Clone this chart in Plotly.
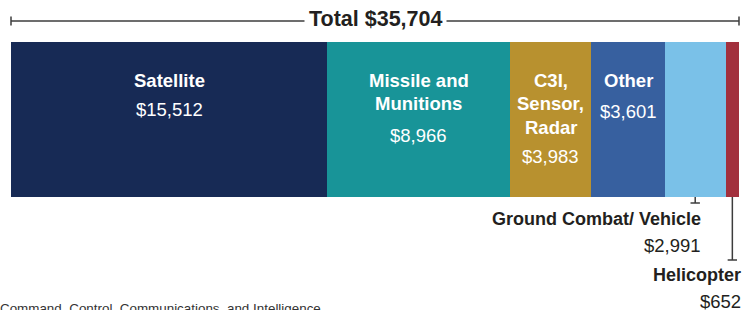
import plotly.graph_objects as go

categories = ["Satellite", "Missile and Munitions", "C3I, Sensor, Radar", "Other",
              "Ground Combat/ Vehicle", "Helicopter"]
values = [15512, 8966, 3983, 3601, 2991, 652]
value_labels = ["$15,512", "$8,966", "$3,983", "$3,601", "$2,991", "$652"]
inner_lines = [["Satellite"], ["Missile and", "Munitions"], ["C3I,", "Sensor,", "Radar"], ["Other"]]
colors = ["#172A55", "#189498", "#B8912F", "#37609F", "#7AC1E8", "#A2303D"]
total_label = "Total $35,704"
footnote = "Command, Control, Communications, and Intelligence"

T = sum(values)
W, H = 756, 310
bar_left, bar_px = 11, 728
x0 = -bar_left * T / bar_px
x1 = x0 + W * T / bar_px

BAR_Y, BAR_H = 119.5, 155
bar_top, bar_bot = BAR_Y - BAR_H / 2, BAR_Y + BAR_H / 2

FONT = "Liberation Sans, Arial, sans-serif"
DARK = "#231F20"

fig = go.Figure()
for c, v, col in zip(categories, values, colors):
    fig.add_trace(go.Bar(y=[BAR_Y], x=[v], orientation="h", width=BAR_H, name=c,
                         marker=dict(color=col, line=dict(width=0)), hoverinfo="name+x"))

mids = []
cum = 0
for v in values:
    mids.append(cum + v / 2)
    cum += v

ann = []
LINE = 23.5
FIRST = 80
VGAP = [29, 32, 29, 31]
for i, lines in enumerate(inner_lines):
    y = FIRST
    for j, ln in enumerate(lines):
        ann.append(dict(x=mids[i], y=y, text="<b>%s</b>" % ln, showarrow=False,
                        font=dict(family=FONT, size=18.5, color="white"),
                        xanchor="center", yanchor="middle"))
        if j < len(lines) - 1:
            y += LINE
    ann.append(dict(x=mids[i], y=y + VGAP[i], text=value_labels[i], showarrow=False,
                    font=dict(family=FONT, size=18.5, color="white"),
                    xanchor="center", yanchor="middle"))

# total
ann.append(dict(x=T / 2, y=19, text="<b>%s</b>" % total_label, showarrow=False,
                font=dict(family=FONT, size=21.5, color=DARK), bgcolor="white",
                borderpad=4, xanchor="center", yanchor="middle"))

# outside labels
ann.append(dict(x=mids[4], y=218.5, text="<b>%s</b>" % categories[4], showarrow=False,
                font=dict(family=FONT, size=18, color=DARK), xanchor="right",
                yanchor="middle", xshift=8))
ann.append(dict(x=mids[4], y=245, text=value_labels[4], showarrow=False,
                font=dict(family=FONT, size=18.5, color=DARK), xanchor="right",
                yanchor="middle", xshift=8))
ann.append(dict(x=mids[5], y=275, text="<b>%s</b>" % categories[5], showarrow=False,
                font=dict(family=FONT, size=18, color=DARK), xanchor="right",
                yanchor="middle", xshift=11))
ann.append(dict(x=mids[5], y=301, text=value_labels[5], showarrow=False,
                font=dict(family=FONT, size=18.5, color=DARK), xanchor="right",
                yanchor="middle", xshift=11))

ann.append(dict(xref="paper", yref="y", x=0, y=308, text=footnote, showarrow=False,
                font=dict(family=FONT, size=13.4, color="#333333"), xanchor="left",
                yanchor="middle", xshift=-2))

lc = "#3C3C3C"
shapes = [
    dict(type="line", x0=0, x1=T, y0=21, y1=21, line=dict(color=lc, width=1.5), layer="below"),
    dict(type="line", x0=0, x1=0, y0=16.5, y1=25.5, line=dict(color=lc, width=1.5)),
    dict(type="line", x0=T, x1=T, y0=16.5, y1=25.5, line=dict(color=lc, width=1.5)),
    dict(type="line", x0=mids[4], x1=mids[4], y0=bar_bot, y1=203, line=dict(color=lc, width=1.5)),
    dict(type="line", x0=mids[4] - 230, x1=mids[4] + 230, y0=203, y1=203, line=dict(color=lc, width=1.5)),
    dict(type="line", x0=mids[5], x1=mids[5], y0=bar_bot, y1=260, line=dict(color=lc, width=1.5)),
    dict(type="line", x0=mids[5] - 230, x1=mids[5] + 230, y0=260, y1=260, line=dict(color=lc, width=1.5)),
]

fig.update_layout(
    width=W, height=H, margin=dict(l=0, r=0, t=0, b=0),
    paper_bgcolor="white", plot_bgcolor="white",
    barmode="stack", bargap=0, showlegend=False,
    xaxis=dict(range=[x0, x1], visible=False, fixedrange=True),
    yaxis=dict(range=[H, 0], visible=False, fixedrange=True),
    annotations=ann, shapes=shapes,
)
fig.write_html("out.html", config={"displayModeBar": False},
               post_script="document.body.style.margin='0';")
